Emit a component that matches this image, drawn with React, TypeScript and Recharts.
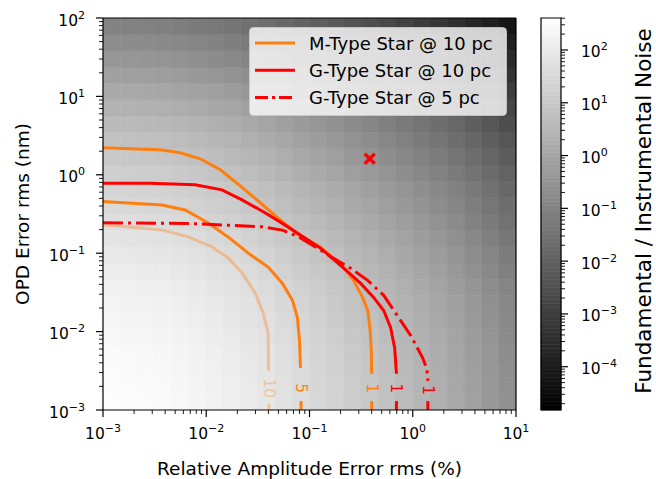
import React from "react";
import { ComposedChart, XAxis, YAxis, Line, Scatter, ReferenceArea, Label } from "recharts";

const FONT = "'DejaVu Sans', sans-serif";
const ORANGE = "#ff7f0e";
const RED = "#ff0000";

// colour scale limits, log10 of Fundamental / Instrumental Noise
const cMinLog = -4.82;
const cMaxLog = 2.606;

// axis ticks (decades)
const xMajor = [0.001, 0.01, 0.1, 1, 10];
const yMajor = [0.001, 0.01, 0.1, 1, 10, 100];
const cMajor = [0.0001, 0.001, 0.01, 0.1, 1, 10, 100];

// heatmap grid: 24 x 24 log spaced cells covering the axes
const nCells = 24;
const xEdges = Array.from({ length: nCells + 1 }, (_, i) => Math.pow(10, -3 + (4 * i) / nCells));
const yEdges = Array.from({ length: nCells + 1 }, (_, j) => Math.pow(10, -3 + (5 * j) / nCells));

// log10(noise ratio) per cell, row 0 = lowest OPD error, column 0 = lowest amplitude error
const ratioLog: number[][] = [
  [2.55, 2.52, 2.49, 2.46, 2.40, 2.32, 2.23, 2.14, 2.02, 1.91, 1.76, 1.61, 1.47, 1.32, 1.15, 1.00, 0.83, 0.65, 0.48, 0.30, 0.10, -0.14, -0.37, -0.61],
  [2.52, 2.49, 2.46, 2.43, 2.37, 2.29, 2.20, 2.11, 1.99, 1.88, 1.73, 1.58, 1.44, 1.29, 1.12, 0.97, 0.80, 0.62, 0.45, 0.27, 0.07, -0.17, -0.40, -0.64],
  [2.49, 2.46, 2.43, 2.40, 2.34, 2.26, 2.17, 2.08, 1.96, 1.85, 1.70, 1.55, 1.41, 1.26, 1.09, 0.94, 0.77, 0.59, 0.42, 0.24, 0.04, -0.20, -0.43, -0.67],
  [2.46, 2.43, 2.40, 2.37, 2.31, 2.23, 2.14, 2.05, 1.93, 1.82, 1.67, 1.52, 1.38, 1.23, 1.06, 0.91, 0.74, 0.56, 0.39, 0.21, 0.01, -0.23, -0.46, -0.70],
  [2.40, 2.37, 2.34, 2.31, 2.25, 2.17, 2.08, 1.99, 1.87, 1.76, 1.61, 1.46, 1.32, 1.17, 1.00, 0.85, 0.68, 0.50, 0.33, 0.15, -0.05, -0.29, -0.52, -0.76],
  [2.35, 2.32, 2.29, 2.26, 2.20, 2.12, 2.03, 1.94, 1.82, 1.71, 1.56, 1.41, 1.27, 1.12, 0.95, 0.80, 0.63, 0.45, 0.28, 0.10, -0.10, -0.34, -0.57, -0.81],
  [2.29, 2.26, 2.23, 2.20, 2.14, 2.06, 1.97, 1.88, 1.76, 1.65, 1.50, 1.35, 1.21, 1.06, 0.89, 0.74, 0.57, 0.39, 0.22, 0.04, -0.16, -0.40, -0.63, -0.87],
  [2.20, 2.17, 2.14, 2.11, 2.05, 1.97, 1.88, 1.79, 1.67, 1.56, 1.41, 1.26, 1.12, 0.97, 0.80, 0.65, 0.48, 0.30, 0.13, -0.05, -0.25, -0.49, -0.72, -0.96],
  [2.08, 2.05, 2.02, 1.99, 1.93, 1.85, 1.76, 1.67, 1.55, 1.44, 1.29, 1.14, 1.00, 0.85, 0.68, 0.53, 0.36, 0.18, 0.01, -0.17, -0.37, -0.61, -0.84, -1.08],
  [1.97, 1.94, 1.91, 1.88, 1.82, 1.74, 1.65, 1.56, 1.44, 1.33, 1.18, 1.03, 0.89, 0.74, 0.57, 0.42, 0.25, 0.07, -0.10, -0.28, -0.48, -0.72, -0.95, -1.19],
  [1.82, 1.79, 1.76, 1.73, 1.67, 1.59, 1.50, 1.41, 1.29, 1.18, 1.03, 0.88, 0.74, 0.59, 0.42, 0.27, 0.10, -0.08, -0.25, -0.43, -0.63, -0.87, -1.10, -1.34],
  [1.67, 1.64, 1.61, 1.58, 1.52, 1.44, 1.35, 1.26, 1.14, 1.03, 0.88, 0.73, 0.59, 0.44, 0.27, 0.12, -0.05, -0.23, -0.40, -0.58, -0.78, -1.02, -1.25, -1.49],
  [1.53, 1.50, 1.47, 1.44, 1.38, 1.30, 1.21, 1.12, 1.00, 0.89, 0.74, 0.59, 0.45, 0.30, 0.13, -0.02, -0.19, -0.37, -0.54, -0.72, -0.92, -1.16, -1.39, -1.63],
  [1.38, 1.35, 1.32, 1.29, 1.23, 1.15, 1.06, 0.97, 0.85, 0.74, 0.59, 0.44, 0.30, 0.15, -0.02, -0.17, -0.34, -0.52, -0.69, -0.87, -1.07, -1.31, -1.54, -1.78],
  [1.21, 1.18, 1.15, 1.12, 1.06, 0.98, 0.89, 0.80, 0.68, 0.57, 0.42, 0.27, 0.13, -0.02, -0.19, -0.34, -0.51, -0.69, -0.86, -1.04, -1.24, -1.48, -1.71, -1.95],
  [1.03, 1.00, 0.97, 0.94, 0.88, 0.80, 0.71, 0.62, 0.50, 0.39, 0.24, 0.09, -0.05, -0.20, -0.37, -0.52, -0.69, -0.87, -1.04, -1.22, -1.42, -1.66, -1.89, -2.13],
  [0.83, 0.80, 0.77, 0.74, 0.68, 0.60, 0.51, 0.42, 0.30, 0.19, 0.04, -0.11, -0.25, -0.40, -0.57, -0.72, -0.89, -1.07, -1.24, -1.42, -1.62, -1.86, -2.09, -2.33],
  [0.62, 0.59, 0.56, 0.53, 0.47, 0.39, 0.30, 0.21, 0.09, -0.02, -0.17, -0.32, -0.46, -0.61, -0.78, -0.93, -1.10, -1.28, -1.45, -1.63, -1.83, -2.07, -2.30, -2.54],
  [0.39, 0.36, 0.33, 0.30, 0.24, 0.16, 0.07, -0.02, -0.14, -0.25, -0.40, -0.55, -0.69, -0.84, -1.01, -1.16, -1.33, -1.51, -1.68, -1.86, -2.06, -2.30, -2.53, -2.77],
  [0.12, 0.09, 0.06, 0.03, -0.03, -0.11, -0.20, -0.29, -0.41, -0.52, -0.67, -0.82, -0.96, -1.11, -1.28, -1.43, -1.60, -1.78, -1.95, -2.13, -2.33, -2.57, -2.80, -3.04],
  [-0.14, -0.17, -0.20, -0.23, -0.29, -0.37, -0.46, -0.55, -0.67, -0.78, -0.93, -1.08, -1.22, -1.37, -1.54, -1.69, -1.86, -2.04, -2.21, -2.39, -2.59, -2.83, -3.06, -3.30],
  [-0.43, -0.46, -0.49, -0.52, -0.58, -0.66, -0.75, -0.84, -0.96, -1.07, -1.22, -1.37, -1.51, -1.66, -1.83, -1.98, -2.15, -2.33, -2.50, -2.68, -2.88, -3.12, -3.35, -3.59],
  [-0.72, -0.75, -0.78, -0.81, -0.87, -0.95, -1.04, -1.13, -1.25, -1.36, -1.51, -1.66, -1.80, -1.95, -2.12, -2.27, -2.44, -2.62, -2.79, -2.97, -3.17, -3.41, -3.64, -3.88],
  [-1.01, -1.04, -1.07, -1.10, -1.16, -1.24, -1.33, -1.42, -1.54, -1.65, -1.80, -1.95, -2.09, -2.24, -2.41, -2.56, -2.73, -2.91, -3.08, -3.26, -3.46, -3.70, -3.93, -4.17],
];

// contour lines [amplitude error %, OPD error nm]; "tail" = bit below the inline label
const mType10 = [[0.001, 0.229], [0.00175, 0.217], [0.00374, 0.197], [0.00668, 0.162], [0.01143, 0.12], [0.0164, 0.0863], [0.0224, 0.0554], [0.0299, 0.0307], [0.0357, 0.017], [0.0398, 0.0094], [0.0401, 0.00316]];
const mType10Tail = [[0.0405, 0.0012], [0.0405, 0.001]];
const mType5 = [[0.001, 0.457], [0.00175, 0.438], [0.00374, 0.412], [0.00625, 0.356], [0.01045, 0.243], [0.0164, 0.16], [0.0256, 0.1], [0.04, 0.066], [0.0547, 0.0412], [0.0684, 0.025], [0.0764, 0.0151], [0.08, 0.0077], [0.0818, 0.00345]];
const mType5Tail = [[0.0828, 0.0013], [0.0828, 0.001]];
const mType1 = [[0.001, 2.22], [0.00183, 2.15], [0.00357, 2.09], [0.0056, 1.91], [0.00875, 1.6], [0.0137, 1.16], [0.0214, 0.72], [0.0334, 0.44], [0.0523, 0.265], [0.0818, 0.165], [0.128, 0.119], [0.214, 0.066], [0.267, 0.045], [0.327, 0.0273], [0.366, 0.0186], [0.385, 0.0112], [0.397, 0.0057], [0.4, 0.0029]];
const mType1Tail = [[0.4, 0.0013], [0.4, 0.001]];
const gType10 = [[0.001, 0.783], [0.00286, 0.78], [0.00781, 0.745], [0.0142, 0.643], [0.0222, 0.478], [0.0347, 0.345], [0.0523, 0.249], [0.0818, 0.17], [0.128, 0.116], [0.214, 0.0643], [0.313, 0.0412], [0.418, 0.0273], [0.523, 0.0186], [0.611, 0.0112], [0.668, 0.00624], [0.695, 0.0029]];
const gType10Tail = [[0.695, 0.0013], [0.695, 0.001]];
const gType5 = [[0.001, 0.244], [0.00668, 0.24], [0.035, 0.217], [0.0547, 0.197], [0.0782, 0.162], [0.114, 0.12], [0.171, 0.0863], [0.25, 0.0643], [0.366, 0.0451], [0.523, 0.029], [0.764, 0.0138], [0.957, 0.0089], [1.24, 0.0047], [1.37, 0.00336], [1.4, 0.00236]];
const gType5Tail = [[1.4, 0.0013], [1.4, 0.001]];

// inline contour labels
const levelLabels = [
  { x: 0.0403, y: 0.0019, t: "10", c: ORANGE, o: 0.35 },
  { x: 0.0826, y: 0.0019, t: "5", c: ORANGE, o: 1 },
  { x: 0.4, y: 0.0019, t: "1", c: ORANGE, o: 1 },
  { x: 0.695, y: 0.0019, t: "1", c: RED, o: 1 },
  { x: 1.4, y: 0.0018, t: "1", c: RED, o: 1 },
];

// current design point
const designPoint = [{ x: 0.383, y: 1.6 }];

const legendItems = [
  { name: "M-Type Star @ 10 pc", color: ORANGE, dash: undefined },
  { name: "G-Type Star @ 10 pc", color: RED, dash: undefined },
  { name: "G-Type Star @ 5 pc", color: RED, dash: "13 4 3 4" },
];

const DASHDOT = "20 5 3 5";

const toPts = (arr: number[][]) => arr.map(([x, y]) => ({ x, y }));

const withMinors = (majors: number[], lo: number, hi: number) => {
  const out: number[] = [];
  const decades = [majors[0] / 10, ...majors];
  decades.forEach((d) => {
    for (let k = 1; k <= 9; k++) {
      const v = Number((d * k).toPrecision(6));
      if (v >= lo && v <= hi) out.push(v);
    }
  });
  return out;
};

const xTicks = withMinors(xMajor, 0.001, 10);
const yTicks = withMinors(yMajor, 0.001, 100);
const cTicks = withMinors(cMajor, Math.pow(10, cMinLog), Math.pow(10, cMaxLog));

const grayOf = (lg: number) => {
  const t = Math.min(1, Math.max(0, (lg - cMinLog) / (cMaxLog - cMinLog)));
  const g = Math.round(t * 255);
  return `rgb(${g},${g},${g})`;
};

const cells = ratioLog.flatMap((row, j) =>
  row.map((v, i) => ({
    key: `${i}-${j}`,
    x1: xEdges[i],
    x2: xEdges[i + 1],
    y1: yEdges[j],
    y2: yEdges[j + 1],
    fill: grayOf(v),
  }))
);

// colour bar drawn as thin strips of the gray map
const nStrips = 96;
const strips = Array.from({ length: nStrips }, (_, k) => {
  const a = cMinLog + ((cMaxLog - cMinLog) * k) / nStrips;
  const b = cMinLog + ((cMaxLog - cMinLog) * (k + 1)) / nStrips;
  return { key: k, y1: Math.pow(10, a), y2: Math.pow(10, b), fill: grayOf((a + b) / 2) };
});

const isMajor = (v: number) => {
  const e = Math.log10(v);
  return Math.abs(e - Math.round(e)) < 1e-6;
};

const PowerLabel = ({ x, y, exp, anchor }: { x: number; y: number; exp: number; anchor: "start" | "middle" | "end" }) => (
  <text x={x} y={y} textAnchor={anchor} fontSize={15.5} fontFamily={FONT} fill="#000">
    10
    <tspan dy={-7} fontSize={11}>
      {exp < 0 ? `\u2212${-exp}` : `${exp}`}
    </tspan>
  </text>
);

const XTick = (p: any) => {
  const { x, y, payload } = p;
  const major = isMajor(payload.value);
  return (
    <g>
      <line x1={x} x2={x} y1={y} y2={y + (major ? 7 : 4)} stroke="#000" strokeWidth={major ? 1.2 : 0.9} />
      {major && <PowerLabel x={x} y={y + 29} exp={Math.round(Math.log10(payload.value))} anchor="middle" />}
    </g>
  );
};

const YTick = (p: any) => {
  const { x, y, payload } = p;
  const major = isMajor(payload.value);
  return (
    <g>
      <line x1={x} x2={x - (major ? 7 : 4)} y1={y} y2={y} stroke="#000" strokeWidth={major ? 1.2 : 0.9} />
      {major && <PowerLabel x={x - 18} y={y + 7.5} exp={Math.round(Math.log10(payload.value))} anchor="end" />}
    </g>
  );
};

const CTick = (p: any) => {
  const { x, y, payload } = p;
  const major = isMajor(payload.value);
  return (
    <g>
      <line x1={x} x2={x + (major ? 7 : 4)} y1={y} y2={y} stroke="#000" strokeWidth={major ? 1.2 : 0.9} />
      {major && <PowerLabel x={x + 20} y={y + 7.5} exp={Math.round(Math.log10(payload.value))} anchor="start" />}
    </g>
  );
};

const LevelLabel = (p: any) => {
  const { cx, cy, payload } = p;
  return (
    <text
      x={cx}
      y={cy}
      transform={`rotate(90 ${cx} ${cy})`}
      textAnchor="middle"
      dominantBaseline="central"
      fontSize={15.5}
      fontFamily={FONT}
      fill={payload.c}
      fillOpacity={payload.o}
    >
      {payload.t}
    </text>
  );
};

const Cross = (p: any) => {
  const { cx, cy } = p;
  const r = 5;
  return (
    <g stroke={RED} strokeWidth={3.5}>
      <line x1={cx - r} y1={cy - r} x2={cx + r} y2={cy + r} />
      <line x1={cx - r} y1={cy + r} x2={cx + r} y2={cy - r} />
    </g>
  );
};

const contourLines = [
  { id: "m10", pts: mType10, color: ORANGE, op: 0.35, dash: undefined },
  { id: "m10t", pts: mType10Tail, color: ORANGE, op: 0.35, dash: undefined },
  { id: "m5", pts: mType5, color: ORANGE, op: 1, dash: undefined },
  { id: "m5t", pts: mType5Tail, color: ORANGE, op: 1, dash: undefined },
  { id: "m1", pts: mType1, color: ORANGE, op: 1, dash: undefined },
  { id: "m1t", pts: mType1Tail, color: ORANGE, op: 1, dash: undefined },
  { id: "g10", pts: gType10, color: RED, op: 1, dash: undefined },
  { id: "g10t", pts: gType10Tail, color: RED, op: 1, dash: undefined },
  { id: "g5", pts: gType5, color: RED, op: 1, dash: DASHDOT },
  { id: "g5t", pts: gType5Tail, color: RED, op: 1, dash: undefined },
];

const frameLine = { stroke: "#000", strokeWidth: 1.2 };

export default function App() {
  return (
    <div style={{ position: "absolute", left: 0, top: 0, width: 656, height: 479, background: "#fff" }}>
      <div style={{ position: "absolute", left: 0, top: 0 }}>
        <ComposedChart width={656} height={479} margin={{ top: 17, right: 139, bottom: 68, left: 102 }}>
          <XAxis
            type="number"
            dataKey="x"
            scale="log"
            domain={[0.001, 10]}
            allowDataOverflow
            ticks={xTicks}
            interval={0}
            tick={<XTick />}
            tickLine={false}
            tickSize={0}
            tickMargin={0}
            height={1}
            axisLine={frameLine}
          >
            <Label
              content={() => (
                <text x={309.5} y={475} textAnchor="middle" fontSize={18.5} fontFamily={FONT} fill="#000">
                  Relative Amplitude Error rms (%)
                </text>
              )}
            />
          </XAxis>
          <YAxis
            type="number"
            dataKey="y"
            scale="log"
            domain={[0.001, 100]}
            allowDataOverflow
            ticks={yTicks}
            interval={0}
            tick={<YTick />}
            tickLine={false}
            tickSize={0}
            tickMargin={0}
            width={1}
            axisLine={frameLine}
          >
            <Label
              content={() => (
                <text x={29} y={214} transform="rotate(-90 29 214)" textAnchor="middle" fontSize={18.5} fontFamily={FONT} fill="#000">
                  OPD Error rms (nm)
                </text>
              )}
            />
          </YAxis>
          <XAxis xAxisId="top" orientation="top" type="number" domain={[0, 1]} allowDataOverflow tick={false} tickLine={false} height={1} axisLine={frameLine} />
          <YAxis yAxisId="right" orientation="right" type="number" domain={[0, 1]} allowDataOverflow tick={false} tickLine={false} width={1} axisLine={frameLine} />

          {cells.map((c) => (
            <ReferenceArea
              key={c.key}
              x1={c.x1}
              x2={c.x2}
              y1={c.y1}
              y2={c.y2}
              fill={c.fill}
              fillOpacity={1}
              stroke={c.fill}
              strokeWidth={0.6}
              ifOverflow="hidden"
            />
          ))}

          {contourLines.map((l) => (
            <Line
              key={l.id}
              data={toPts(l.pts)}
              dataKey="y"
              type="linear"
              stroke={l.color}
              strokeOpacity={l.op}
              strokeWidth={3}
              strokeDasharray={l.dash}
              dot={false}
              activeDot={false}
              isAnimationActive={false}
            />
          ))}

          <Scatter data={levelLabels} dataKey="y" shape={<LevelLabel />} isAnimationActive={false} />
          <Scatter data={designPoint} dataKey="y" shape={<Cross />} isAnimationActive={false} />
        </ComposedChart>
      </div>

      {/* colour bar */}
      <div style={{ position: "absolute", left: 0, top: 0 }}>
        <ComposedChart width={656} height={479} margin={{ top: 18, right: 94, bottom: 69, left: 541 }}>
          <XAxis type="number" dataKey="x" domain={[0, 1]} allowDataOverflow hide />
          <YAxis
            type="number"
            dataKey="y"
            orientation="right"
            scale="log"
            domain={[Math.pow(10, cMinLog), Math.pow(10, cMaxLog)]}
            allowDataOverflow
            ticks={cTicks}
            interval={0}
            tick={<CTick />}
            tickLine={false}
            tickSize={0}
            tickMargin={0}
            width={1}
            axisLine={false}
          >
            <Label
              content={() => (
                <text x={651} y={211} transform="rotate(-90 651 211)" textAnchor="middle" fontSize={21.5} fontFamily={FONT} fill="#000">
                  Fundamental / Instrumental Noise
                </text>
              )}
            />
          </YAxis>
          {strips.map((s) => (
            <ReferenceArea
              key={s.key}
              x1={0}
              x2={1}
              y1={s.y1}
              y2={s.y2}
              fill={s.fill}
              fillOpacity={1}
              stroke={s.fill}
              strokeWidth={0.6}
              ifOverflow="visible"
            />
          ))}
          <ReferenceArea
            x1={0}
            x2={1}
            y1={Math.pow(10, cMinLog)}
            y2={Math.pow(10, cMaxLog)}
            fill="none"
            stroke="#000"
            strokeWidth={1.2}
            ifOverflow="visible"
          />
        </ComposedChart>
      </div>

      {/* legend */}
      <svg width={656} height={479} style={{ position: "absolute", left: 0, top: 0, pointerEvents: "none" }}>
        <rect x={249.5} y={27.5} width={257} height={88} rx={4} ry={4} fill="#fff" fillOpacity={0.8} stroke="#cccccc" strokeOpacity={0.8} />
        {legendItems.map((it, k) => {
          const cy = 43 + k * 27.3;
          return (
            <g key={it.name}>
              <line x1={255} x2={295} y1={cy} y2={cy} stroke={it.color} strokeWidth={3} strokeDasharray={it.dash} />
              <text x={309} y={cy + 6.5} fontSize={18} fontFamily={FONT} fill="#000">
                {it.name}
              </text>
            </g>
          );
        })}
      </svg>
    </div>
  );
}
